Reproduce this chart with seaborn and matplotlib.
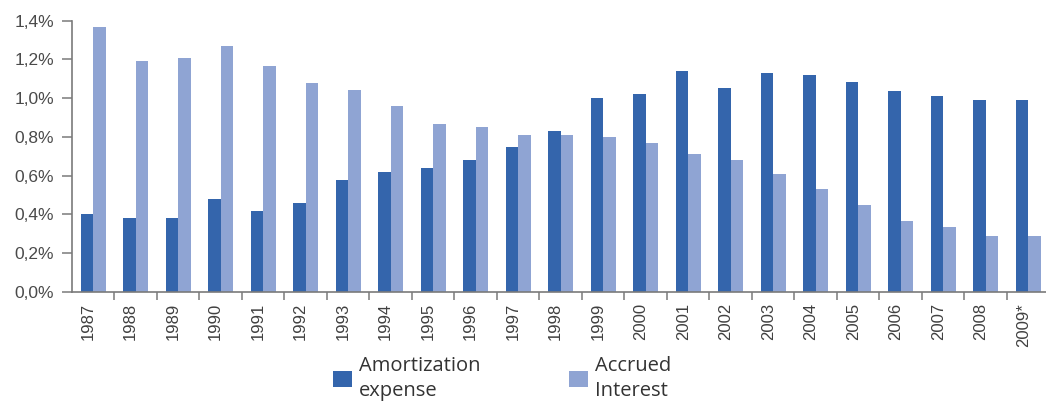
import matplotlib
matplotlib.use("Agg")
import matplotlib.pyplot as plt
import matplotlib.transforms as mtransforms
from matplotlib.patches import Patch
from matplotlib.ticker import FuncFormatter, FixedLocator
import numpy as np
import pandas as pd
import seaborn as sns

years = ["1987", "1988", "1989", "1990", "1991", "1992", "1993", "1994",
         "1995", "1996", "1997", "1998", "1999", "2000", "2001", "2002",
         "2003", "2004", "2005", "2006", "2007", "2008", "2009*"]
amortization = [0.40, 0.38, 0.38, 0.48, 0.42, 0.46, 0.58, 0.62, 0.64, 0.68,
                0.75, 0.83, 1.00, 1.02, 1.14, 1.055, 1.13, 1.12, 1.085,
                1.035, 1.01, 0.99, 0.99]
accrued = [1.37, 1.19, 1.205, 1.27, 1.165, 1.08, 1.04, 0.96, 0.865, 0.85,
           0.81, 0.81, 0.80, 0.77, 0.71, 0.68, 0.61, 0.53, 0.45, 0.365,
           0.335, 0.29, 0.29]
series_names = ["Amortization\nexpense", "Accrued\nInterest"]
colors = ["#3465AC", "#8FA4D3"]

df = pd.DataFrame({
    "year": years * 2,
    "value": amortization + accrued,
    "series": [series_names[0]] * len(years) + [series_names[1]] * len(years),
})

sns.set_style("white")
plt.rcParams["font.family"] = ["Liberation Sans", "DejaVu Sans"]

fig = plt.figure(figsize=(10.46, 4.04), dpi=100)
ax = fig.add_axes([72 / 1046, (404 - 292) / 404, (1046 - 72) / 1046, (292 - 20.7) / 404])

sns.barplot(data=df, x="year", y="value", hue="series", order=years,
            hue_order=series_names, palette=colors, width=0.59, gap=0,
            saturation=1, legend=False, linewidth=0, ax=ax)

ax.set_xlim(-0.5, 22.42)
ax.set_ylim(0, 1.4)
ax.set_yticks(np.arange(0, 1.41, 0.2))
ax.yaxis.set_major_formatter(FuncFormatter(lambda v, p: f"{v:.1f}%".replace(".", ",")))
ax.set_xlabel("")
ax.set_ylabel("")

for side in ("top", "right"):
    ax.spines[side].set_visible(False)
for side in ("left", "bottom"):
    ax.spines[side].set_color("#7a7a7a")
    ax.spines[side].set_linewidth(1.2)

ax.tick_params(axis="y", which="major", direction="out", length=7, width=1.1,
               color="#7a7a7a", pad=6, labelsize=12.5, labelcolor="#4a4a4a", left=True)
# year labels sit at category centers; tick marks go at category boundaries
ax.set_xticks(range(len(years)))
ax.set_xticklabels(years, rotation=90, fontsize=12, color="#404040")
ax.tick_params(axis="x", which="major", length=0, pad=8)
ax.xaxis.set_minor_locator(FixedLocator(np.arange(0.5, len(years), 1.0)))
ax.tick_params(axis="x", which="minor", direction="out", length=6, width=1.1,
               color="#7a7a7a", bottom=True)
shift = mtransforms.ScaledTranslation(-5 / 100, 0, fig.dpi_scale_trans)
for lbl in ax.get_xticklabels():
    lbl.set_transform(lbl.get_transform() + shift)

handles = [Patch(facecolor=c, edgecolor="none") for c in colors]
leg = fig.legend(handles, series_names, loc="center", bbox_to_anchor=(0.480, 0.063),
                 ncol=2, frameon=False, handlelength=0.95, handleheight=0.8,
                 handletextpad=0.35, columnspacing=4.4, labelspacing=0.3,
                 borderpad=0.0,
                 prop={"family": ["Open Sans", "DejaVu Sans"], "size": 14.5},
                 labelcolor="#333333")
for t in leg.get_texts():
    t.set_linespacing(1.3)

fig.savefig("out.png", dpi=100)
